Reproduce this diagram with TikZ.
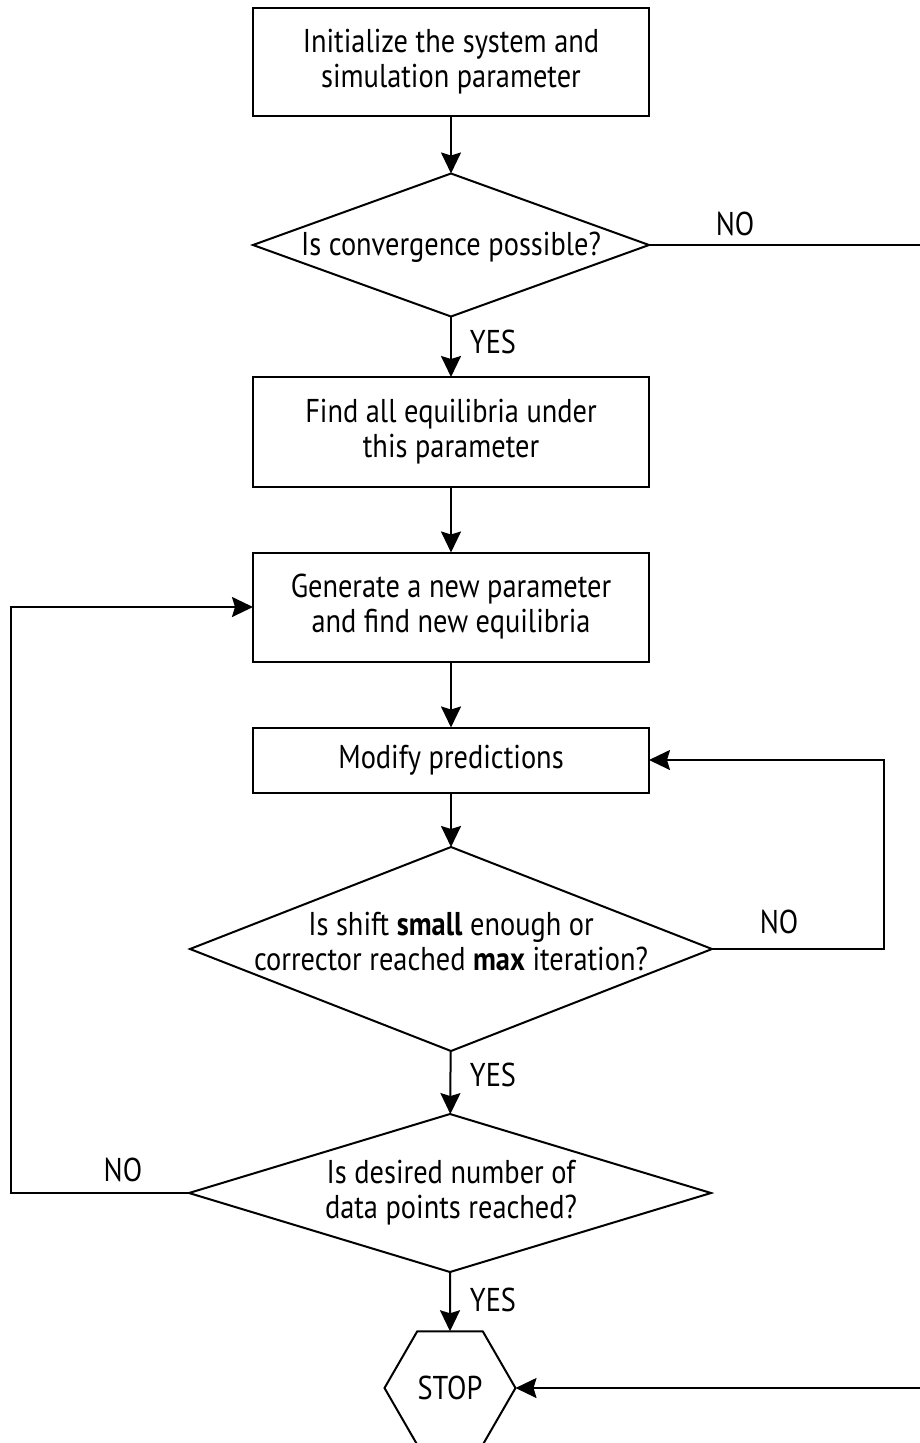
\documentclass[tikz,border=0pt]{standalone}
\usepackage{fontspec}
\setmainfont[FakeStretch=0.86]{PT Sans}
\usetikzlibrary{shapes.geometric,arrows.meta}
\newcommand\fsz{\fontsize{33}{35}\selectfont}
\begin{document}
\begin{tikzpicture}[x=1pt,y=-1pt,
  box/.style={draw, line width=2pt, minimum width=396pt, inner sep=0pt, outer sep=0pt, align=center, font=\fsz},
  dia/.style={draw, diamond, line width=2pt, inner sep=0pt, outer sep=0pt},
  hexa/.style={draw, regular polygon, regular polygon sides=6, minimum size=131pt, line width=2pt, inner sep=0pt, outer sep=0pt, font=\fsz},
  txt/.style={align=center, font=\fsz, inner sep=0pt},
  lbl/.style={font=\fsz, inner sep=0pt},
  arr/.style={line width=2pt, -{Stealth[length=21pt,width=20pt,inset=3pt]}},
  ln/.style={line width=2pt}]
\useasboundingbox (0,0) rectangle (920,1443);
\fill[white] (0,0) rectangle (920,1443);
\clip (0,0) rectangle (920,1443);

\node[box, minimum height=108pt] (b1) at (451,62) {Initialize the system and\\simulation parameter};
\node[dia, minimum width=396pt, minimum height=143pt] (d1) at (451,245) {};
\node[txt] (t1) at (451,247) {Is convergence possible?};
\node[box, minimum height=110pt] (b2) at (451,432) {Find all equilibria under\\this parameter};
\node[box, minimum height=109pt] (b3) at (451,607) {Generate a new parameter\\and find new equilibria};
\node[box, minimum height=65pt] (b4) at (451,760) {Modify predictions};
\node[dia, minimum width=522pt, minimum height=204pt] (d2) at (451,949) {};
\node[txt] (t2) at (451,942) {Is shift \textbf{small} enough or\\corrector reached \textbf{max} iteration?};
\node[dia, minimum width=522pt, minimum height=158pt] (d3) at (450,1193) {};
\node[txt] (t3) at (451,1193) {Is desired number of\\data points reached?};
\node[hexa] (stop) at (450,1388) {STOP};

\coordinate (rc) at (935,0);
\coordinate (rc2) at (884,0);
\coordinate (lc) at (11,0);

\draw[arr] (b1) -- (d1);
\draw[arr] (d1) -- (b2);
\draw[arr] (b2) -- (b3);
\draw[arr] (b3) -- (b4);
\draw[arr] (b4) -- (d2);
\draw[arr] (d2) -- (d3);
\draw[arr] (d3.south) -- (stop.north);

\draw[arr] (d1.east) -- (d1.east -| rc) |- (stop.east);
\draw[arr] (d2.east) -- (d2.east -| rc2) |- (b4.east);
\draw[arr] (d3.west) -- (d3.west -| lc) |- (b3.west);

\node[lbl] (no1) at (735,224) {NO};
\node[lbl] (yes1) at (493,342) {YES};
\node[lbl] (no2) at (779,922) {NO};
\node[lbl] (yes2) at (493,1075) {YES};
\node[lbl] (no3) at (123,1170) {NO};
\node[lbl] (yes3) at (493,1300) {YES};
\end{tikzpicture}
\end{document}
